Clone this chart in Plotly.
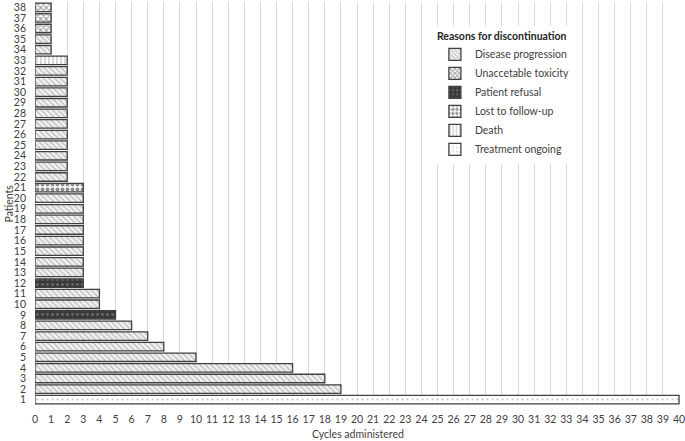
import plotly.graph_objects as go

patients = list(range(1, 39))
cycles = [40, 19, 18, 16, 10, 8, 7, 6, 5, 4, 4, 3,
          3, 3, 3, 3, 3, 3, 3, 3, 3,
          2, 2, 2, 2, 2, 2, 2, 2, 2, 2, 2, 2,
          1, 1, 1, 1, 1]
reasons = (["Treatment ongoing"] + ["Disease progression"] * 7 + ["Patient refusal"]
           + ["Disease progression"] * 2 + ["Patient refusal"]
           + ["Disease progression"] * 8 + ["Lost to follow-up"]
           + ["Disease progression"] * 11 + ["Death"]
           + ["Disease progression"] * 2 + ["Unaccetable toxicity"] * 3)
reason_order = ["Disease progression", "Unaccetable toxicity", "Patient refusal",
                "Lost to follow-up", "Death", "Treatment ongoing"]
x_ticks = list(range(0, 41))

styles = {
    "Disease progression": dict(shape="\\", bgcolor="#f2f2f2", fgcolor="#7f7f7f", size=4, solidity=0.3),
    "Unaccetable toxicity": dict(shape="x", bgcolor="#ffffff", fgcolor="#404040", size=4, solidity=0.5),
    "Patient refusal": dict(shape=".", bgcolor="#3a3a3a", fgcolor="#b0b0b0", size=5, solidity=0.2),
    "Lost to follow-up": dict(shape=".", bgcolor="#ffffff", fgcolor="#1a1a1a", size=5, solidity=0.5),
    "Death": dict(shape="|", bgcolor="#ffffff", fgcolor="#7f7f7f", size=4, solidity=0.3),
    "Treatment ongoing": dict(shape=".", bgcolor="#ffffff", fgcolor="#8c8c8c", size=5, solidity=0.15),
}

fig = go.Figure()
for r in reason_order:
    ys = [p for p, rr in zip(patients, reasons) if rr == r]
    xs = [c for c, rr in zip(cycles, reasons) if rr == r]
    fig.add_trace(go.Bar(
        x=xs, y=ys, name=r, orientation="h", width=0.8,
        marker=dict(color=styles[r]["bgcolor"], pattern=styles[r],
                    line=dict(color="#404040", width=1.3)),
    ))

font = "Lato, 'Open Sans', sans-serif"
fig.update_layout(
    width=685, height=441,
    margin=dict(l=35, r=5, t=2, b=36),
    barmode="overlay",
    plot_bgcolor="white", paper_bgcolor="white",
    font=dict(family=font, size=10.5, color="#404040"),
    showlegend=True,
    legend=dict(
        title=dict(text="<b>Reasons for discontinuation</b>", font=dict(size=10.5, color="#262626")),
        x=0.62, y=0.94, xanchor="left", yanchor="top",
        bgcolor="rgba(255,255,255,1)", traceorder="normal",
        font=dict(size=10.5, color="#404040"),
    ),
    xaxis=dict(
        range=[0, 40.06], tickvals=x_ticks, ticktext=[str(v) for v in x_ticks],
        showgrid=True, gridcolor="#d9d9d9", gridwidth=1,
        zeroline=False, showline=False, ticks="", automargin=False,
        ticklabelstandoff=6, ticklabeloverflow="allow", tickfont=dict(size=10.5),
    ),
    yaxis=dict(
        range=[0.5, 38.5], tickvals=patients, ticktext=[str(p) for p in patients],
        showgrid=False, zeroline=False, showline=False, ticks="", automargin=False,
        ticklabelstandoff=8, ticklabeloverflow="allow", tickfont=dict(size=10.5),
    ),
    annotations=[
        dict(text="Cycles administered", xref="paper", yref="paper", x=0.5, y=0,
             yshift=-29, xanchor="center", yanchor="middle", showarrow=False,
             font=dict(size=10.5, color="#404040")),
        dict(text="Patients", xref="paper", yref="paper", x=0, y=0.5,
             xshift=-27, xanchor="center", yanchor="middle", showarrow=False,
             textangle=-90, font=dict(size=10.5, color="#404040")),
    ],
)

fig.write_html("out.html", config={"displayModeBar": False},
               post_script="document.body.style.margin='0';document.body.style.padding='0';")
